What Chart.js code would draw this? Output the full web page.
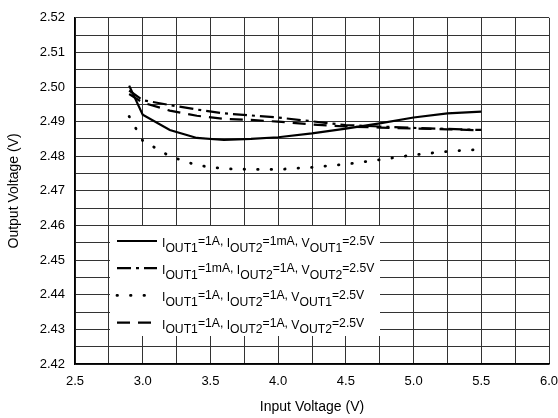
<!DOCTYPE html>
<html>
<head>
<meta charset="utf-8">
<script src="https://cdn.jsdelivr.net/npm/chart.js@4.4.0/dist/chart.umd.min.js"></script>
<style>
  html, body { margin: 0; padding: 0; background: #fff; }
</style>
</head>
<body>
<canvas id="chart" width="558" height="418"></canvas>
<script>
// input voltage sweep (V)
const inputVoltage = [2.9, 3.0, 3.2, 3.4, 3.6, 3.8, 4.0, 4.25, 4.5, 4.75, 5.0, 5.25, 5.5];

// output voltage readings (V)
const vout1Iout1A = [2.5004, 2.4920, 2.4876, 2.4853, 2.4847, 2.4850, 2.4855, 2.4866, 2.4880, 2.4895, 2.4912, 2.4924, 2.4929];
const vout2Iout2A = [2.4990, 2.4962, 2.4948, 2.4935, 2.4924, 2.4918, 2.4912, 2.4901, 2.4890, 2.4886, 2.4882, 2.4879, 2.4876];
const vout1BothA  = [2.4915, 2.4845, 2.4800, 2.4774, 2.4764, 2.4762, 2.4762, 2.4768, 2.4777, 2.4790, 2.4804, 2.4814, 2.4820];
const vout2BothA  = [2.4980, 2.4955, 2.4932, 2.4917, 2.4908, 2.4905, 2.4900, 2.4892, 2.4886, 2.4883, 2.4880, 2.4878, 2.4875];

const seriesLabels = [
    'I_{OUT1}=1A, I_{OUT2}=1mA, V_{OUT1}=2.5V',
    'I_{OUT1}=1mA, I_{OUT2}=1A, V_{OUT2}=2.5V',
    'I_{OUT1}=1A, I_{OUT2}=1A, V_{OUT1}=2.5V',
    'I_{OUT1}=1A, I_{OUT2}=1A, V_{OUT2}=2.5V'
];

const FONT = '"Liberation Sans", Arial, sans-serif';

function toPoints(values) {
    return values.map((v, i) => ({ x: inputVoltage[i], y: v }));
}

function lineStyle(dash, width, cap) {
    return {
        borderColor: '#000',
        borderWidth: width,
        borderDash: dash,
        borderCapStyle: cap,
        pointRadius: 0,
        tension: 0,
        fill: false
    };
}

const datasets = [
    { label: seriesLabels[0], data: toPoints(vout1Iout1A), ...lineStyle([], 2.2, 'butt') },
    { label: seriesLabels[1], data: toPoints(vout2Iout2A), ...lineStyle([14, 5, 3, 5], 2.2, 'butt') },
    { label: seriesLabels[2], data: toPoints(vout1BothA), ...lineStyle([0.5, 13], 2.8, 'round') },
    { label: seriesLabels[3], data: toPoints(vout2BothA), ...lineStyle([13, 8], 2.2, 'butt') }
];

/* =============================================================================
LEGEND (white box over the grid, labels with subscripts)
============================================================================= */

function drawRichLabel(ctx, text, x, rowY) {
    const parts = text.split(/([IV]_\{[^}]*\})/).filter(p => p.length);
    let cx = x;
    ctx.fillStyle = '#000';
    ctx.textBaseline = 'alphabetic';
    ctx.textAlign = 'left';
    ctx.font = `12.2px ${FONT}`;
    parts.forEach(part => {
        const m = part.match(/^([IV])_\{([^}]*)\}$/);
        if (m) {
            ctx.fillText(m[1], cx, rowY + 6);
            cx += ctx.measureText(m[1]).width;
            ctx.fillText(m[2], cx, rowY + 10.5);
            cx += ctx.measureText(m[2]).width;
        } else {
            ctx.fillText(part, cx, rowY + 4);
            cx += ctx.measureText(part).width;
        }
    });
}

const legendBox = {
    id: 'legendBox',
    beforeDatasetsDraw(chart) {
        const ctx = chart.ctx;
        ctx.save();
        ctx.fillStyle = '#fff';
        ctx.fillRect(110, 226, 270, 110);

        chart.data.datasets.forEach((ds, i) => {
            const rowY = 241 + i * 27.2;
            ctx.beginPath();
            ctx.strokeStyle = '#000';
            ctx.lineWidth = ds.borderWidth;
            ctx.setLineDash(ds.borderDash);
            ctx.lineCap = ds.borderCapStyle;
            ctx.moveTo(117, rowY);
            ctx.lineTo(157, rowY);
            ctx.stroke();
            ctx.setLineDash([]);
            drawRichLabel(ctx, ds.label, 162, rowY);
        });
        ctx.restore();
    }
};

const ctx = document.getElementById('chart').getContext('2d');

new Chart(ctx, {
    type: 'line',
    data: { datasets: datasets },
    options: {
        responsive: false,
        animation: false,
        devicePixelRatio: 1,
        layout: { padding: { left: 0, right: 0, top: 16, bottom: 0 } },
        plugins: {
            legend: { display: false },
            tooltip: { enabled: false }
        },
        scales: {
            x: {
                type: 'linear',
                min: 2.5,
                max: 6.0,
                ticks: {
                    stepSize: 0.25,
                    autoSkip: false,
                    maxRotation: 0,
                    padding: 10,
                    color: '#000',
                    font: { family: FONT, size: 13 },
                    callback: v => (Math.round(v * 100) % 50 === 0 ? v.toFixed(1) : '')
                },
                grid: { color: '#333', lineWidth: 1, drawTicks: false },
                border: { color: '#000', width: 1.5 },
                title: {
                    display: true,
                    text: 'Input Voltage (V)',
                    color: '#000',
                    font: { family: FONT, size: 14 },
                    padding: { top: 4, bottom: 2 }
                },
                afterFit: scale => { scale.height = 54; scale.paddingRight = 9; }
            },
            y: {
                min: 2.42,
                max: 2.52,
                ticks: {
                    stepSize: 0.005,
                    autoSkip: false,
                    padding: 10,
                    color: '#000',
                    font: { family: FONT, size: 13 },
                    callback: v => (Math.round(v * 1000) % 10 === 0 ? v.toFixed(2) : '')
                },
                grid: { color: '#333', lineWidth: 1, drawTicks: false },
                border: { color: '#000', width: 1.5 },
                title: {
                    display: true,
                    text: 'Output Voltage (V)',
                    color: '#000',
                    font: { family: FONT, size: 14 },
                    padding: { top: 6, bottom: 2 }
                },
                afterFit: scale => { scale.width = 75; }
            }
        }
    },
    plugins: [legendBox]
});
</script>
</body>
</html>
